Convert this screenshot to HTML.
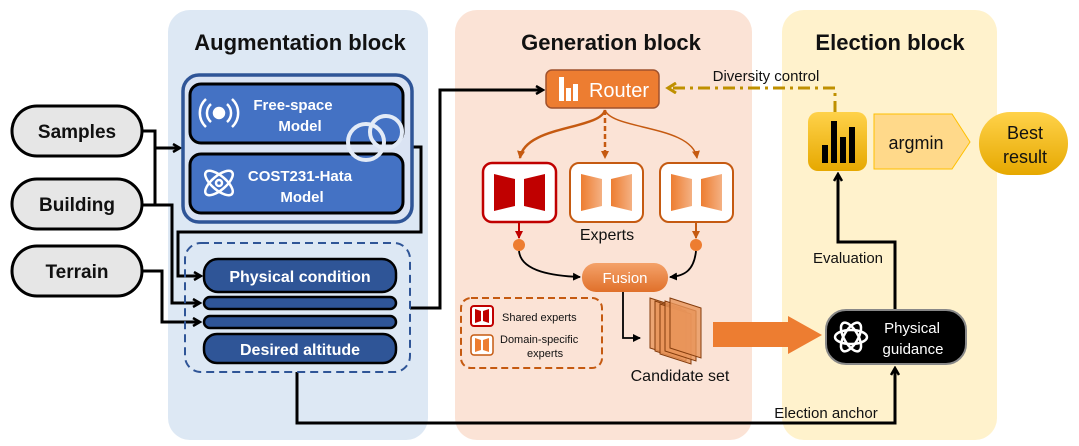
<!DOCTYPE html>
<html><head><meta charset="utf-8"><style>
html,body{margin:0;padding:0;background:#fff;}
svg{display:block;font-family:"Liberation Sans",sans-serif;}
</style></head><body>
<svg width="1079" height="446" viewBox="0 0 1079 446" xmlns="http://www.w3.org/2000/svg">
<defs>
<marker id="ab" markerWidth="10" markerHeight="10" refX="8" refY="5" orient="auto" markerUnits="userSpaceOnUse"><path d="M1,1 L8,5 L1,9" fill="none" stroke="#000" stroke-width="2.5"/></marker>
<marker id="abs" markerWidth="8" markerHeight="8" refX="7" refY="4" orient="auto" markerUnits="userSpaceOnUse"><path d="M0,0 L8,4 L0,8z" fill="#000"/></marker>
<marker id="ao" markerWidth="8" markerHeight="8" refX="7" refY="4" orient="auto" markerUnits="userSpaceOnUse"><path d="M0,0 L8,4 L0,8z" fill="#c55a11"/></marker>
<marker id="ar" markerWidth="8" markerHeight="8" refX="7" refY="4" orient="auto" markerUnits="userSpaceOnUse"><path d="M0,0 L8,4 L0,8z" fill="#c00000"/></marker>
<marker id="ay" markerWidth="12" markerHeight="12" refX="9" refY="6" orient="auto" markerUnits="userSpaceOnUse"><path d="M1,1 L9,6 L1,11" fill="none" stroke="#bf9000" stroke-width="3"/></marker>
<linearGradient id="gy" x1="0" y1="0" x2="0" y2="1"><stop offset="0" stop-color="#ffd24a"/><stop offset="1" stop-color="#e6a800"/></linearGradient>
<linearGradient id="gf" x1="0" y1="0" x2="0" y2="1"><stop offset="0" stop-color="#f4a26a"/><stop offset="1" stop-color="#e0702a"/></linearGradient>
<linearGradient id="go" x1="0" y1="0" x2="1" y2="0"><stop offset="0" stop-color="#ed7d31"/><stop offset="1" stop-color="#f4b183"/></linearGradient>
</defs>

<!-- panels -->
<rect x="168" y="10" width="260" height="430" rx="22" fill="#dde8f4"/>
<rect x="455" y="10" width="297" height="430" rx="22" fill="#fbe3d6"/>
<rect x="782" y="10" width="215" height="430" rx="22" fill="#fff2cc"/>
<text x="300" y="50" font-size="22" font-weight="bold" text-anchor="middle" fill="#111">Augmentation block</text>
<text x="611" y="50" font-size="22" font-weight="bold" text-anchor="middle" fill="#111">Generation block</text>
<text x="890" y="50" font-size="22" font-weight="bold" text-anchor="middle" fill="#111">Election block</text>

<!-- inputs -->
<g stroke="#000" stroke-width="3" fill="#e6e6e6">
<rect x="12" y="106" width="130" height="50" rx="25"/>
<rect x="12" y="179" width="130" height="50" rx="25"/>
<rect x="12" y="246" width="130" height="50" rx="25"/>
</g>
<g font-size="19" font-weight="bold" text-anchor="middle" fill="#111">
<text x="77" y="138">Samples</text><text x="77" y="211">Building</text><text x="77" y="278">Terrain</text>
</g>
<g fill="none" stroke="#000" stroke-width="3">
<path d="M142,131 H155 V205 H142"/>
<path d="M155,148 H180" marker-end="url(#ab)"/>
<path d="M155,205 H172 V303 H200" marker-end="url(#ab)"/>
<path d="M142,271 H162 V322 H200" marker-end="url(#ab)"/>
<path d="M412,147 H421 V232 H178 V276 H201" marker-end="url(#ab)"/>
<path d="M410,308 H440 V90 H543" marker-end="url(#ab)"/>
<path d="M297,372 V423 H895 V368" marker-end="url(#ab)"/>
<path d="M895,310 V242 H838 V174" marker-end="url(#ab)"/>
</g>

<!-- model box -->
<rect x="183" y="75" width="229" height="147" rx="16" fill="#dae3f3" stroke="#2f5597" stroke-width="3.5"/>
<rect x="190" y="84" width="213" height="59" rx="11" fill="#4472c4" stroke="#000" stroke-width="3"/>
<rect x="190" y="154" width="213" height="59" rx="11" fill="#4472c4" stroke="#000" stroke-width="3"/>
<g font-size="15" font-weight="bold" fill="#fff" text-anchor="middle">
<text x="293" y="110">Free-space</text><text x="300" y="131">Model</text>
<text x="300" y="181">COST231-Hata</text><text x="302" y="202">Model</text>
</g>
<g fill="none" stroke="#fff" stroke-width="2.5">
<circle cx="219" cy="113" r="5" fill="#fff"/>
<path d="M211,104 a12,12 0 0 0 0,18 M227,104 a12,12 0 0 1 0,18 M206,99 a19,19 0 0 0 0,28 M232,99 a19,19 0 0 1 0,28"/>
<ellipse cx="219" cy="183" rx="17" ry="7" transform="rotate(40 219 183)"/>
<ellipse cx="219" cy="183" rx="17" ry="7" transform="rotate(-40 219 183)"/>
<circle cx="219" cy="183" r="3"/>
</g>
<g fill="none" stroke="#e3ebf7" stroke-width="4">
<circle cx="366" cy="142" r="18"/><circle cx="386" cy="132" r="16"/>
</g>

<!-- dashed box -->
<rect x="185" y="243" width="225" height="129" rx="16" fill="none" stroke="#2f5597" stroke-width="2" stroke-dasharray="8,5"/>
<g fill="#2f5597" stroke="#000" stroke-width="2.5">
<rect x="204" y="259" width="192" height="33" rx="14"/>
<rect x="204" y="297" width="192" height="12" rx="6"/>
<rect x="204" y="316" width="192" height="12" rx="6"/>
<rect x="204" y="334" width="192" height="29" rx="13"/>
</g>
<text x="300" y="282" font-size="16" font-weight="bold" fill="#fff" text-anchor="middle">Physical condition</text>
<text x="300" y="355" font-size="16" font-weight="bold" fill="#fff" text-anchor="middle">Desired altitude</text>

<!-- router -->
<rect x="546" y="70" width="113" height="38" rx="6" fill="#ed7d31" stroke="#a0522d" stroke-width="1.5"/>
<g fill="#fff"><rect x="559" y="77" width="5" height="24"/><rect x="566" y="88" width="5" height="13"/><rect x="573" y="84" width="5" height="17"/></g>
<text x="619" y="97" font-size="20" fill="#fff" text-anchor="middle">Router</text>
<path d="M835,113 V88 H668" fill="none" stroke="#bf9000" stroke-width="3" stroke-dasharray="12,5,3,5" marker-end="url(#ay)"/>
<text x="766" y="81" font-size="15" fill="#111" text-anchor="middle">Diversity control</text>

<!-- router arrows -->
<g fill="none" stroke="#c55a11" stroke-width="2.5">
<path d="M605,110 C600,130 525,125 520,158" marker-end="url(#ao)"/>
<path d="M605,110 V158" stroke-dasharray="5,3" marker-end="url(#ao)"/>
<path d="M605,110 C612,130 692,125 697,158" stroke-width="1.5" marker-end="url(#ao)"/>
</g>
<!-- experts -->
<rect x="483" y="163" width="73" height="59" rx="9" fill="#fff" stroke="#c00000" stroke-width="2.5"/>
<rect x="570" y="163" width="73" height="59" rx="9" fill="#fff" stroke="#c55a11" stroke-width="2"/>
<rect x="660" y="163" width="73" height="59" rx="9" fill="#fff" stroke="#c55a11" stroke-width="2"/>
<g fill="#c00000"><path d="M494,174 L515,179 V206 L494,211z"/><path d="M545,174 L524,179 V206 L545,211z"/></g>
<g fill="url(#go)"><path d="M581,174 L602,179 V206 L581,211z"/><path d="M632,174 L611,179 V206 L632,211z"/>
<path d="M671,174 L692,179 V206 L671,211z"/><path d="M722,174 L701,179 V206 L722,211z"/></g>
<text x="607" y="240" font-size="16" fill="#111" text-anchor="middle">Experts</text>
<path d="M519,222 V238" stroke="#c00000" stroke-width="2" marker-end="url(#ar)"/>
<path d="M696,222 V238" stroke="#c55a11" stroke-width="2" marker-end="url(#ao)"/>
<circle cx="519" cy="245" r="6" fill="#ed7d31"/><circle cx="696" cy="245" r="6" fill="#ed7d31"/>
<g fill="none" stroke="#000" stroke-width="1.8">
<path d="M519,251 C521,272 555,276 580,277" marker-end="url(#abs)"/>
<path d="M696,251 C694,270 685,276 670,277" marker-end="url(#abs)"/>
<path d="M623,292 V338 H640" marker-end="url(#abs)"/>
</g>
<rect x="582" y="263" width="86" height="29" rx="14" fill="url(#gf)"/>
<text x="625" y="283" font-size="15" fill="#fff" text-anchor="middle">Fusion</text>
<!-- candidate stack -->
<g fill="#e8955a" fill-opacity="0.8" stroke="#843c0c" stroke-width="1">
<path d="M650,298 L681,308 V358 L650,348z"/>
<path d="M655,301 L686,311 V361 L655,351z"/>
<path d="M660,304 L691,314 V364 L660,354z"/>
<path d="M665,301 L696,311 V361 L665,351z"/>
<path d="M670,298 L701,308 V358 L670,348z"/>
</g>
<text x="680" y="381" font-size="16" fill="#111" text-anchor="middle">Candidate set</text>
<!-- legend -->
<rect x="461" y="298" width="141" height="70" rx="10" fill="none" stroke="#c55a11" stroke-width="2" stroke-dasharray="7,4"/>
<rect x="471" y="306" width="22" height="20" rx="3" fill="#fff" stroke="#c00000" stroke-width="2"/>
<path d="M475,309 L481,311 V321 L475,323z M489,309 L483,311 V321 L489,323z" fill="#c00000"/>
<rect x="471" y="335" width="22" height="20" rx="3" fill="#fff" stroke="#c55a11" stroke-width="1.5"/>
<path d="M475,338 L481,340 V350 L475,352z M489,338 L483,340 V350 L489,352z" fill="#ed7d31"/>
<text x="502" y="321" font-size="11" fill="#111">Shared experts</text>
<text x="500" y="343" font-size="11" fill="#111">Domain-specific</text>
<text x="527" y="357" font-size="11" fill="#111">experts</text>

<!-- big arrow -->
<path d="M713,322 H788 V316 L822,335 L788,354 V347 H713z" fill="#ed7d31"/>

<!-- physical guidance -->
<rect x="826" y="310" width="140" height="54" rx="20" fill="#000" stroke="#888" stroke-width="2"/>
<g fill="none" stroke="#fff" stroke-width="2.5">
<ellipse cx="851" cy="337" rx="16" ry="7"/>
<ellipse cx="851" cy="337" rx="16" ry="7" transform="rotate(60 851 337)"/>
<ellipse cx="851" cy="337" rx="16" ry="7" transform="rotate(-60 851 337)"/>
</g>
<text x="912" y="333" font-size="15" fill="#fff" text-anchor="middle">Physical</text>
<text x="913" y="354" font-size="15" fill="#fff" text-anchor="middle">guidance</text>
<text x="848" y="263" font-size="15" fill="#111" text-anchor="middle">Evaluation</text>
<text x="826" y="418" font-size="15" fill="#111" text-anchor="middle">Election anchor</text>

<!-- election top -->
<rect x="808" y="112" width="59" height="59" rx="10" fill="url(#gy)"/>
<g fill="#000"><rect x="822" y="145" width="6" height="18"/><rect x="831" y="121" width="6" height="42"/><rect x="840" y="137" width="6" height="26"/><rect x="849" y="127" width="6" height="36"/></g>
<path d="M874,114 H952 L970,142 L952,169 H874z" fill="#ffd98a" stroke="#ffc000" stroke-width="1"/>
<text x="916" y="149" font-size="18" fill="#111" text-anchor="middle">argmin</text>
<rect x="979" y="112" width="89" height="63" rx="31" fill="url(#gy)"/>
<text x="1025" y="139" font-size="18" fill="#111" text-anchor="middle">Best</text>
<text x="1025" y="163" font-size="18" fill="#111" text-anchor="middle">result</text>
</svg>
</body></html>
